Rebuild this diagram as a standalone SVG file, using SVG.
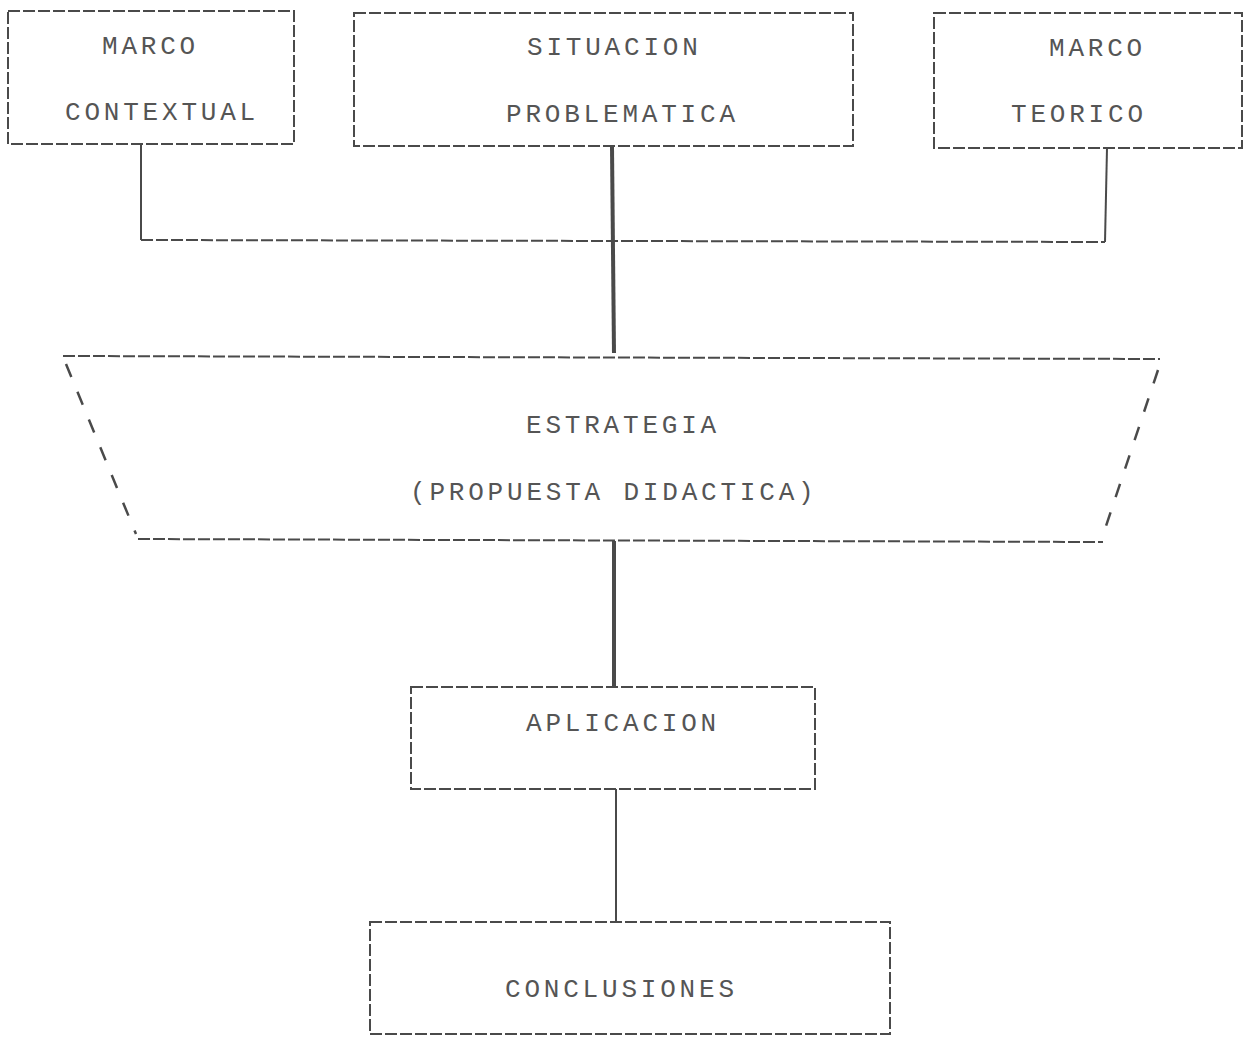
<svg xmlns="http://www.w3.org/2000/svg" width="1247" height="1037" viewBox="0 0 1247 1037">
<style>
.b{fill:none;stroke:#4a4a4a;stroke-width:2;stroke-dasharray:12 3}
.s{fill:none;stroke:#4a4a4a;stroke-width:2.5;stroke-dasharray:14 16}
.t{font-family:"Liberation Mono","Courier New",monospace;font-size:26px;letter-spacing:3.8px;fill:#555}
.c{fill:none;stroke:#4a4a4a;stroke-width:2}
.k{fill:none;stroke:#4a4a4a;stroke-width:4}
.d{fill:none;stroke:#4a4a4a;stroke-width:2;stroke-dasharray:12 3}
</style>
<rect width="1247" height="1037" fill="#fff"/>
<g id="connectors">
<polyline class="c" points="141,144 141,240"/>
<polyline class="d" points="141,240 1105,242"/>
<polyline class="c" points="1105,242 1107,148"/>
<line class="k" x1="612" y1="147" x2="614" y2="353"/>
<line class="k" x1="614" y1="541" x2="614" y2="687"/>
<line class="c" x1="616" y1="789" x2="616" y2="921"/>
</g>
<g id="marco-contextual">
<rect class="b" x="8" y="11" width="286" height="133"/>
<text class="t" x="102" y="54">MARCO</text>
<text class="t" x="65" y="120">CONTEXTUAL</text>
</g>
<g id="situacion-problematica">
<rect class="b" x="354" y="13" width="499" height="133"/>
<text class="t" x="527" y="55">SITUACION</text>
<text class="t" x="506" y="122">PROBLEMATICA</text>
</g>
<g id="marco-teorico">
<rect class="b" x="934" y="13" width="308" height="135"/>
<text class="t" x="1049" y="56">MARCO</text>
<text class="t" x="1011" y="122">TEORICO</text>
</g>
<g id="estrategia">
<line class="b" x1="63" y1="356" x2="1160" y2="359"/>
<line class="b" x1="138" y1="539" x2="1103" y2="542"/>
<line class="s" x1="66" y1="364" x2="136" y2="534"/>
<line class="s" x1="1158" y1="370" x2="1103" y2="535"/>
<text class="t" x="526" y="433">ESTRATEGIA</text>
<text class="t" x="410" y="500">(PROPUESTA DIDACTICA)</text>
</g>
<g id="aplicacion">
<rect class="b" x="411" y="687" width="404" height="102"/>
<text class="t" x="526" y="731">APLICACION</text>
</g>
<g id="conclusiones">
<rect class="b" x="370" y="922" width="520" height="112"/>
<text class="t" x="505" y="997">CONCLUSIONES</text>
</g>
</svg>
